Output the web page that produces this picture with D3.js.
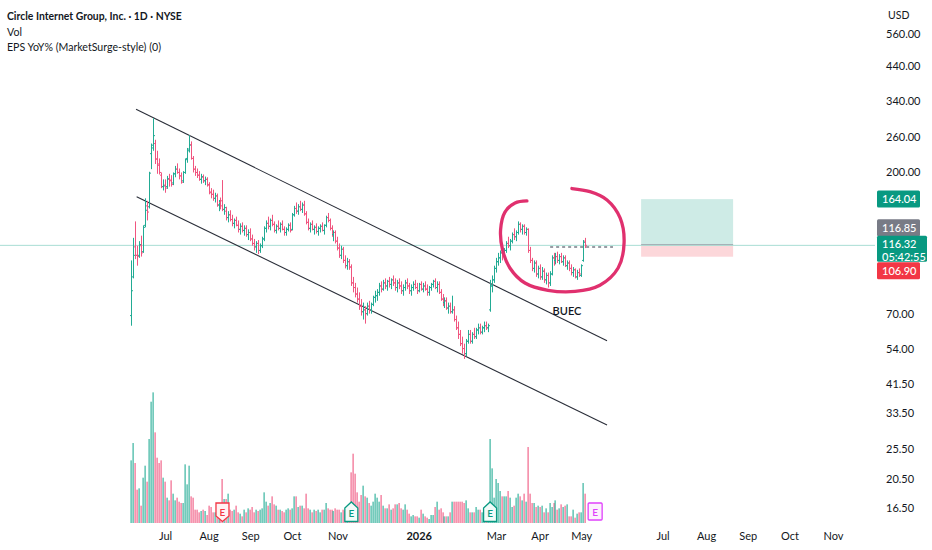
<!DOCTYPE html>
<html><head><meta charset="utf-8">
<script src="https://cdn.jsdelivr.net/npm/d3@7/dist/d3.min.js"></script>
<style>
body{margin:0;background:#fff;}
svg{display:block;font-family:Lato,"Noto Sans",sans-serif;}
</style></head><body>
<svg id="c" width="932" height="550"></svg>
<script>
// ---------- DATA ----------
const opens  = [69,92,115,108,108,116,111,135,156,155,230,245,248,221,211,196,180,182,180,190,188,185,198,205,200,195,188,200,222,238,246,222,205,200,196,190,193,188,190,182,172,170,165,168,157,160,162,152,150,143,146,141,137,140,135,131,134,130,132,126,128,122,118,115,118,112,116,122,132,137,134,140,136,130,134,132,136,131,128,131,135,131,146,153,150,155,152,157,147,138,132,136,131,133,129,132,134,130,135,143,140,132,126,128,120,114,108,113,104,100,103,99,88,85,81,78,74,71,72,70,74,72,75,79,80,82,86,84,88,86,89,87,90,88,85,88,86,83,85,88,86,83,85,87,85,83,87,84,86,84,82,85,87,89,85,87,82,78,76,77,73,74,71,72,67,63,60,56,54,52,57,60,57,60,59,62,63,61,63,64,63,72,86,90,98,103,106,110,107,112,118,116,120,126,124,128,136,131,134,128,131,112,104,98,102,94,98,92,96,90,93,88,94,106,104,107,104,107,103,106,100,102,98,95,97,92,95,93,104,120];
const highs  = [104,123,139,116,120,125,135,165,162,201,248,299,255,235,222,200,190,190,195,198,196,200,210,214,206,200,202,222,240,264,252,226,210,206,202,198,197,194,193,186,178,176,172,171,163,166,189,158,155,150,151,146,142,144,140,137,138,135,135,131,132,126,122,120,121,118,124,134,140,144,142,146,139,136,140,138,140,134,133,137,138,148,156,160,158,162,160,162,150,142,138,140,135,137,134,136,138,136,145,148,142,135,130,130,124,118,116,115,108,106,105,101,92,88,85,82,78,76,74,76,77,76,80,83,84,88,89,90,91,90,92,91,93,91,90,91,89,87,90,91,88,87,89,90,88,88,89,88,89,87,86,88,90,91,89,89,84,81,79,79,76,76,80,74,69,66,62,59,56,58,62,62,61,63,63,65,65,64,66,66,65,90,93,100,106,110,112,113,114,120,124,122,128,132,130,139,138,136,136,133,132,115,106,104,104,100,101,99,98,95,95,96,108,110,110,111,109,110,108,108,104,104,101,99,98,97,98,101,121,123];
const lows   = [64,91,105,100,106,107,110,133,140,153,205,235,213,198,197,178,175,172,177,180,180,182,193,198,190,184,185,198,215,232,220,200,195,192,188,184,185,182,180,170,165,162,160,155,150,152,150,146,140,138,139,134,132,134,128,126,128,125,124,121,120,116,112,110,109,110,114,120,128,131,130,134,128,127,130,128,130,125,125,129,128,130,144,147,146,150,148,145,136,130,128,130,126,127,125,128,129,126,133,138,130,124,120,118,112,106,105,102,98,97,97,86,82,79,76,72,69,67,65,69,70,70,74,76,77,80,82,83,84,83,85,84,86,83,82,84,81,80,83,84,81,80,83,84,81,82,83,82,83,80,80,83,85,84,82,81,77,74,73,72,70,70,70,66,62,58,55,52,50,51,56,56,56,58,58,60,60,60,61,62,61,71,82,88,95,100,102,104,105,110,114,112,118,121,120,126,128,126,126,125,110,102,96,95,92,91,90,90,88,87,85,86,93,100,101,102,101,102,100,99,97,96,93,92,91,90,92,92,103,114];
const closes = [83,108,108,107,117,110,133,151,149,199,240,263,221,213,200,180,181,178,191,189,183,198,205,200,195,186,200,220,235,245,222,205,200,196,190,194,188,190,183,173,170,165,168,157,160,156,152,154,143,146,141,137,140,135,131,134,130,132,126,128,122,118,115,118,112,116,122,132,137,134,140,136,130,134,132,136,131,128,131,135,130,146,153,150,155,152,157,147,138,132,136,131,133,129,132,134,130,135,143,140,132,126,128,120,114,108,113,104,100,103,99,88,85,81,78,74,71,72,70,74,72,75,79,80,82,86,84,88,86,89,87,90,88,85,88,86,83,85,88,86,83,85,87,85,83,87,84,86,84,82,85,87,89,85,87,82,78,76,77,73,74,71,72,67,63,60,56,54,52,57,60,57,60,59,62,63,61,63,64,63,64,86,90,98,103,106,110,107,112,118,116,120,126,124,128,136,131,134,128,131,112,104,98,102,94,98,92,96,90,93,88,94,106,104,107,104,107,103,106,100,102,98,95,97,92,95,94,100,119,116.32];
const volumes= [47,60,45,25,26,13,34,43,31,63,91,98,68,49,45,47,34,31,19,17,32,22,17,19,16,15,15,44,29,43,20,19,10,10,8,9,10,9,6,13,12,8,8,6,7,8,33,18,18,22,10,9,10,13,8,7,5,10,8,11,10,12,8,10,9,10,11,23,16,13,15,20,14,13,10,10,9,8,10,11,10,11,20,20,12,13,13,11,22,11,10,8,10,9,10,8,10,10,15,11,10,10,9,11,10,10,8,10,9,8,10,38,52,37,23,16,21,28,20,19,15,13,16,22,19,16,21,13,11,11,14,10,11,14,14,15,11,10,14,10,7,5,6,5,5,4,10,7,5,4,3,6,6,12,16,10,11,8,5,5,5,8,16,16,16,16,16,16,15,17,11,8,8,8,12,10,10,8,7,6,8,63,41,19,33,30,24,20,20,20,24,19,12,13,19,22,20,17,22,16,57,22,15,15,12,13,12,13,8,11,8,15,12,15,17,10,11,14,12,13,14,5,5,10,4,7,8,8,30,22];
const monthLabels = ["Jul","Aug","Sep","Oct","Nov","2026","Mar","Apr","May","Jul","Aug","Sep","Oct","Nov"];
const monthIdx    = [17,39,60,81,104,145,184,206,227,268,290,311,332,354];
const priceTicks  = [560,440,340,260,200,70,54,41.5,33.5,25.5,20.5,16.5];
const earningsIdx  = [46,111,181,234];
const earningsType = ["miss","beat","beat","future"];
const channelStart = [[2.4,320],[2.7,167]];
const channelEnd   = [[240,57.2],[240,30.6]];
const circlePts = [[199.6,161.8],[193.6,159.4],[188.5,149],[186.3,130.4],[187.3,112.4],[191,98.3],[198.6,87.9],[210.2,83.3],[223.9,82.6],[236.4,86.5],[245.6,98.3],[248.6,118.5],[246.6,142.6],[240,163],[231.4,173.4],[222.3,177.5]];
const levelPrice = 115, levelFrom = 211.3, levelTo = 243;
const target = 164.04, entry = 116.85, stop = 106.90, lastPrice = 116.32;
const posFrom = 257.2, posTo = 303.6;
const countdown = "05:42:55";
const buecLabel = {i:219.8, p:71.4, t:"BUEC"};

// ---------- SCALES ----------
const svg = d3.select("#c");
const x = d3.scaleLinear().domain([0,354]).range([131.3,833]);
const y = d3.scaleLog().domain([16.5,560]).range([508,34]);
const v = d3.scaleLinear().domain([0,100]).range([523,389.7]);
const UP="#22ab94", DN="#f0557f";
const data = closes.map((c,i)=>({i,o:opens[i],h:highs[i],l:lows[i],c,vol:volumes[i]}));

// volume
svg.append("g").selectAll("rect").data(data).join("rect")
  .attr("x",d=>Math.round(x(d.i))-0.5).attr("width",1.2)
  .attr("y",d=>v(d.vol)).attr("height",d=>v(0)-v(d.vol))
  .attr("fill",d=>d.c>=d.o?UP:DN).attr("opacity",0.9);

// earnings markers
const eg = svg.append("g");
earningsIdx.forEach((ei,k)=>{
  const cx = x(ei), t = earningsType[k];
  const col = t==="miss"?"#f23645":(t==="beat"?"#089981":"#e040fb");
  const fill = t==="miss"?"#fff2f3":(t==="beat"?"#f2fbf9":"#fcf0fd");
  let p;
  if(t==="miss") p=`M${cx-6.5},503 H${cx+6.5} V516 L${cx},521.5 L${cx-6.5},516 Z`;
  else if(t==="beat") p=`M${cx-6.5},521.5 V508 L${cx},502 L${cx+6.5},508 V521.5 Z`;
  else p=`M${cx-6},503 H${cx+6} Q${cx+7},503 ${cx+7},504 V519 Q${cx+7},520 ${cx+6},520 H${cx-6} Q${cx-7},520 ${cx-7},519 V504 Q${cx-7},503 ${cx-6},503 Z`;
  eg.append("path").attr("d",p).attr("fill",fill).attr("stroke",col).attr("stroke-width",1.3);
  eg.append("text").attr("x",cx).attr("y",t==="beat"?517:515.5).attr("text-anchor","middle")
    .attr("font-size",10).attr("font-weight",600).attr("fill",col).text("E");
});

// position box
svg.append("rect").attr("x",x(posFrom)).attr("width",x(posTo)-x(posFrom))
  .attr("y",y(target)).attr("height",y(entry)-y(target)).attr("fill","rgba(8,153,129,0.2)");
svg.append("rect").attr("x",x(posFrom)).attr("width",x(posTo)-x(posFrom))
  .attr("y",y(entry)).attr("height",y(stop)-y(entry)).attr("fill","rgba(242,54,69,0.2)");
svg.append("line").attr("x1",x(posFrom)).attr("x2",x(posTo)).attr("y1",y(entry)).attr("y2",y(entry))
  .attr("stroke","#9598a1").attr("stroke-width",1);

// last price line
svg.append("line").attr("x1",0).attr("x2",875).attr("y1",y(lastPrice)).attr("y2",y(lastPrice))
  .attr("stroke","#a8ddd4").attr("stroke-width",1);

// channel
channelStart.forEach((s,k)=>{
  const e = channelEnd[k];
  svg.append("line").attr("x1",x(s[0])).attr("y1",y(s[1])).attr("x2",x(e[0])).attr("y2",y(e[1]))
    .attr("stroke","#2a2e39").attr("stroke-width",1.1);
});

// OHLC bars
const bg = svg.append("g").attr("stroke-width",1).attr("fill","none");
data.forEach(d=>{
  const cx = Math.round(x(d.i))+0.5, col = d.c>=d.o?UP:DN;
  bg.append("path").attr("stroke",col)
    .attr("d",`M${cx},${y(d.h)}V${y(d.l)}M${cx-1.5},${y(d.o)}H${cx}M${cx},${y(d.c)}H${cx+1.5}`);
});

// dashed level
svg.append("line").attr("x1",x(levelFrom)).attr("x2",x(levelTo)).attr("y1",y(levelPrice)).attr("y2",y(levelPrice))
  .attr("stroke","#787b86").attr("stroke-width",1.5).attr("stroke-dasharray","3,3");

// circle annotation
svg.append("path").attr("d",d3.line().x(p=>x(p[0])).y(p=>y(p[1])).curve(d3.curveCatmullRom.alpha(0.5))(circlePts))
  .attr("fill","none").attr("stroke","#e0306e").attr("stroke-width",3.3).attr("stroke-linecap","round");

svg.append("text").attr("x",x(buecLabel.i)).attr("y",y(buecLabel.p)).attr("dy","0.35em")
  .attr("text-anchor","middle").attr("font-size",11).attr("font-weight",600).attr("fill","#131722").text(buecLabel.t);

// y axis
const ya = svg.append("g").attr("transform","translate(882,0)")
  .call(d3.axisRight(y).tickValues(priceTicks).tickFormat(d3.format(".2f")).tickSize(0).tickPadding(4));
ya.select(".domain").remove();
ya.selectAll("text").attr("font-size",11).attr("fill","#131722").attr("font-family","Lato,'Noto Sans',sans-serif");
svg.append("text").attr("x",888).attr("y",19).attr("font-size",10.5).attr("fill","#131722").text("USD");

// x axis
const xa = svg.append("g").attr("transform","translate(0,528)")
  .call(d3.axisBottom(x).tickValues(monthIdx).tickFormat((d,i)=>monthLabels[i]).tickSize(0).tickPadding(4));
xa.select(".domain").remove();
xa.selectAll("text").attr("font-size",11).attr("fill","#131722").attr("font-family","Lato,'Noto Sans',sans-serif")
  .attr("font-weight",(d,i)=>monthLabels[i]==="2026"?700:400);

// price tags
function tag(yc,h,w,col,lines){
  const g = svg.append("g");
  g.append("rect").attr("x",877).attr("y",yc-h/2).attr("width",w).attr("height",h).attr("rx",1.5).attr("fill",col);
  lines.forEach((t,k)=>g.append("text").attr("x",882).attr("y",yc-h/2+12.5+k*13).attr("font-size",11)
    .attr("font-weight",500).attr("fill","#fff").text(t));
}
const yl = y(lastPrice);
tag(y(target),17,43,"#089981",[target.toFixed(2)]);
tag(yl-17.5,17,43,"#787b86",[entry.toFixed(2)]);
tag(yl+3.5,26,50,"#089981",[lastPrice.toFixed(2),countdown]);
tag(yl+25.5,17,43,"#f23645",[stop.toFixed(2)]);

// header
svg.append("text").attr("x",7).attr("y",20).attr("font-size",10.4).attr("font-weight",700).attr("fill","#131722")
  .text("Circle Internet Group, Inc. · 1D · NYSE");
svg.append("text").attr("x",7).attr("y",35.5).attr("font-size",10.6).attr("fill","#131722").text("Vol");
svg.append("text").attr("x",7).attr("y",51).attr("font-size",10.6).attr("fill","#131722").text("EPS YoY% (MarketSurge-style) (0)");
</script></body></html>
